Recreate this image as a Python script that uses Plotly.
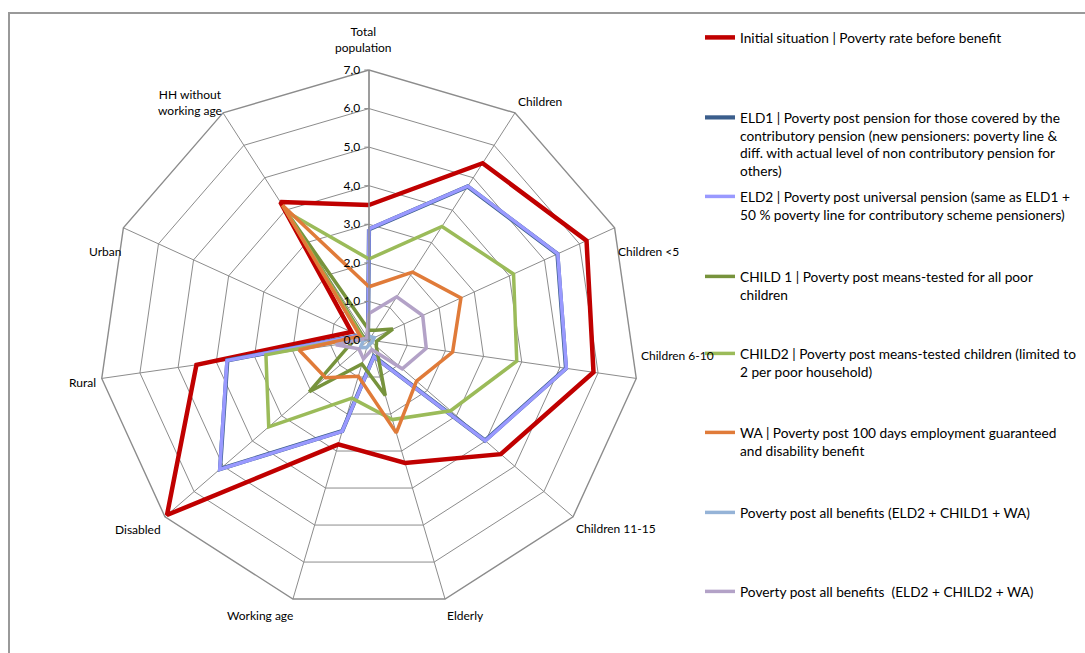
import plotly.graph_objects as go

W, H = 1085, 653

# Population groups (clockwise from the top)
categories = [
    "Total population", "Children", "Children <5", "Children 6-10",
    "Children 11-15", "Elderly", "Working age", "Disabled", "Rural",
    "Urban", "HH without working age",
]
category_text = [
    "Total<br>population", "Children", "Children <5", "Children 6-10",
    "Children 11-15", "Elderly", "Working age", "Disabled", "Rural",
    "Urban", "HH without<br>working age",
]

# Poverty rates per scenario
initial = [3.5, 5.45, 6.2, 5.88, 4.52, 3.32, 2.82, 6.93, 4.52, 0.5, 4.25]
eld1 = [2.87, 4.73, 5.37, 5.16, 3.98, 0.44, 2.46, 5.11, 3.71, 0.28, 0.05]
eld2 = [2.88, 4.74, 5.38, 5.17, 3.99, 0.45, 2.47, 5.12, 3.72, 0.28, 0.05]
child1 = [0.25, 0.3, 0.68, 0.2, 0.25, 1.5, 0.65, 2.05, 0.45, 0.15, 3.9]
child2 = [2.1, 3.5, 4.12, 3.87, 2.8, 2.15, 1.57, 3.44, 2.7, 0.2, 3.95]
wa = [1.38, 2.09, 2.62, 2.19, 1.63, 2.51, 0.98, 1.49, 1.83, 0.25, 4.15]
all_child1 = [0.1, 0.1, 0.15, 0.1, 0.1, 0.1, 0.2, 0.3, 0.15, 0.05, 0.05]
all_child2 = [0.69, 1.33, 1.53, 1.5, 1.14, 0.26, 0.51, 0.35, 0.87, 0.1, 0.1]

series = [
    ("Initial situation | Poverty rate before benefit", initial, "#C00000", 4.5),
    ("ELD1 | Poverty post pension for those covered by the<br>contributory pension (new pensioners: poverty line &<br>diff. with actual level of non contributory pension for<br>others)", eld1, "#3B5E8C", 4.2),
    ("ELD2 | Poverty post universal pension (same as ELD1 +<br>50 % poverty line for contributory scheme pensioners)", eld2, "#9999FF", 3.5),
    ("CHILD 1 | Poverty post means-tested for all poor<br>children", child1, "#77933C", 3.5),
    ("CHILD2 | Poverty post means-tested children (limited to<br>2 per poor household)", child2, "#9BBB59", 3.5),
    ("WA | Poverty post 100 days employment guaranteed<br>and disability benefit", wa, "#E07B39", 3.5),
    ("Poverty post all benefits (ELD2 + CHILD1 + WA)", all_child1, "#95B3D7", 3.5),
    ("Poverty post all benefits  (ELD2 + CHILD2 + WA)", all_child2, "#B3A2C7", 3.5),
]

# first-line centre of each legend entry, in pixels from the top
legend_rows = [36, 116, 195, 275, 352, 431, 511, 590]

# centre of each category label, in pixels (x from left, y from top)
label_pos = [
    (363, 40), (540, 101), (648, 251), (677, 355), (616, 528), (465, 615),
    (260, 615), (138, 529), (82, 382), (105, 252), (190, 102),
]

FONT = "Lato"
GRID = "#8C8C8C"
LEG_SIZE = 13.7

fig = go.Figure()
layout_legends = {}
for i, ((name, vals, color, width), row) in enumerate(zip(series, legend_rows)):
    key = "legend" if i == 0 else f"legend{i + 1}"
    fig.add_trace(go.Scatterpolar(
        r=vals + vals[:1],
        theta=categories + categories[:1],
        mode="lines",
        name=name,
        line=dict(color=color, width=width),
        legend=key,
        hoverinfo="name+theta+r",
    ))
    layout_legends[key] = dict(
        x=700 / W, y=1 - (row - 14) / H, xanchor="left", yanchor="top",
        bgcolor="rgba(0,0,0,0)", borderwidth=0, valign="top",
        font=dict(family=FONT, size=LEG_SIZE, color="#000000"),
        itemwidth=30, tracegroupgap=0,
    )

annotations = [
    dict(text=t, x=px / W, y=1 - py / H, xref="paper", yref="paper",
         xanchor="center", yanchor="middle", showarrow=False,
         font=dict(family=FONT, size=12, color="#000000"))
    for t, (px, py) in zip(category_text, label_pos)
]

cx, cy, R = 369, 340, 270
fig.update_layout(
    width=W, height=H,
    margin=dict(l=0, r=0, t=0, b=0, autoexpand=False),
    paper_bgcolor="white",
    plot_bgcolor="white",
    separators=", ",
    showlegend=True,
    font=dict(family=FONT, size=11, color="#000000"),
    polar=dict(
        domain=dict(x=[(cx - R) / W, (cx + R) / W],
                    y=[1 - (cy + R) / H, 1 - (cy - R) / H]),
        bgcolor="white",
        gridshape="linear",
        angularaxis=dict(
            direction="clockwise", rotation=90,
            showline=True, linecolor=GRID, linewidth=1.4,
            showgrid=True, gridcolor=GRID, gridwidth=1,
            ticks="", showticklabels=False,
        ),
        radialaxis=dict(
            range=[0, 7], dtick=1, tick0=0, tickformat=".1f",
            angle=90, side="counterclockwise", tickangle=90,
            showline=True, linecolor=GRID, linewidth=1.4,
            showgrid=True, gridcolor=GRID, gridwidth=1.4,
            ticks="outside", ticklen=4, tickcolor=GRID,
            tickfont=dict(family=FONT, size=12, color="#000000"),
        ),
    ),
    annotations=annotations,
    shapes=[dict(
        type="rect", xref="paper", yref="paper",
        x0=9 / W, x1=1.05, y0=-0.05, y1=1 - 13 / H,
        line=dict(color="#999999", width=2), fillcolor="rgba(0,0,0,0)",
        layer="below",
    )],
    **layout_legends,
)

fig.write_html("out.html")
